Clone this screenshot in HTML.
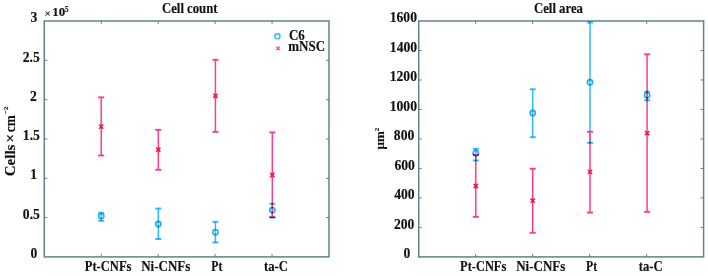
<!DOCTYPE html>
<html><head><meta charset="utf-8"><style>
html,body{margin:0;padding:0;background:#fff;width:708px;height:276px;overflow:hidden}
svg{display:block;filter:blur(0.3px)}
</style></head><body>
<svg width="708" height="276" viewBox="0 0 708 276">
<rect x="44.3" y="21.0" width="284.70" height="235.90" fill="none" stroke="#5c848a" stroke-width="1.5"/>
<line x1="101.24" y1="256.9" x2="101.24" y2="253.89999999999998" stroke="#5c848a" stroke-width="1"/>
<line x1="101.24" y1="21.0" x2="101.24" y2="24.0" stroke="#5c848a" stroke-width="1"/>
<line x1="158.18" y1="256.9" x2="158.18" y2="253.89999999999998" stroke="#5c848a" stroke-width="1"/>
<line x1="158.18" y1="21.0" x2="158.18" y2="24.0" stroke="#5c848a" stroke-width="1"/>
<line x1="215.12" y1="256.9" x2="215.12" y2="253.89999999999998" stroke="#5c848a" stroke-width="1"/>
<line x1="215.12" y1="21.0" x2="215.12" y2="24.0" stroke="#5c848a" stroke-width="1"/>
<line x1="272.06" y1="256.9" x2="272.06" y2="253.89999999999998" stroke="#5c848a" stroke-width="1"/>
<line x1="272.06" y1="21.0" x2="272.06" y2="24.0" stroke="#5c848a" stroke-width="1"/>
<line x1="44.3" y1="217.58" x2="47.3" y2="217.58" stroke="#5c848a" stroke-width="1"/>
<line x1="329.0" y1="217.58" x2="326.0" y2="217.58" stroke="#5c848a" stroke-width="1"/>
<line x1="44.3" y1="178.27" x2="47.3" y2="178.27" stroke="#5c848a" stroke-width="1"/>
<line x1="329.0" y1="178.27" x2="326.0" y2="178.27" stroke="#5c848a" stroke-width="1"/>
<line x1="44.3" y1="138.95" x2="47.3" y2="138.95" stroke="#5c848a" stroke-width="1"/>
<line x1="329.0" y1="138.95" x2="326.0" y2="138.95" stroke="#5c848a" stroke-width="1"/>
<line x1="44.3" y1="99.63" x2="47.3" y2="99.63" stroke="#5c848a" stroke-width="1"/>
<line x1="329.0" y1="99.63" x2="326.0" y2="99.63" stroke="#5c848a" stroke-width="1"/>
<line x1="44.3" y1="60.32" x2="47.3" y2="60.32" stroke="#5c848a" stroke-width="1"/>
<line x1="329.0" y1="60.32" x2="326.0" y2="60.32" stroke="#5c848a" stroke-width="1"/>
<line x1="101.2" y1="212.7" x2="101.2" y2="220.8" stroke="#2ebef2" stroke-width="1.5"/>
<line x1="158.3" y1="208.5" x2="158.3" y2="239" stroke="#2ebef2" stroke-width="1.5"/>
<line x1="215.4" y1="221.8" x2="215.4" y2="242.5" stroke="#2ebef2" stroke-width="1.5"/>
<line x1="272.3" y1="203.8" x2="272.3" y2="217.5" stroke="#2ebef2" stroke-width="1.5"/>
<line x1="101.2" y1="97.4" x2="101.2" y2="155.5" stroke="#ff3c8c" stroke-width="1.5"/>
<line x1="98.20" y1="97.4" x2="104.20" y2="97.4" stroke="#ff3c8c" stroke-width="1.9"/>
<line x1="98.20" y1="155.5" x2="104.20" y2="155.5" stroke="#ff3c8c" stroke-width="1.9"/>
<path d="M99.10 124.50L103.30 128.70M99.10 128.70L103.30 124.50" stroke="#f5103c" stroke-width="1.5"/>
<line x1="158.3" y1="129.9" x2="158.3" y2="169.8" stroke="#ff3c8c" stroke-width="1.5"/>
<line x1="155.30" y1="129.9" x2="161.30" y2="129.9" stroke="#ff3c8c" stroke-width="1.9"/>
<line x1="155.30" y1="169.8" x2="161.30" y2="169.8" stroke="#ff3c8c" stroke-width="1.9"/>
<path d="M156.20 147.60L160.40 151.80M156.20 151.80L160.40 147.60" stroke="#f5103c" stroke-width="1.5"/>
<line x1="215.4" y1="59.8" x2="215.4" y2="131.8" stroke="#ff3c8c" stroke-width="1.5"/>
<line x1="212.40" y1="59.8" x2="218.40" y2="59.8" stroke="#ff3c8c" stroke-width="1.9"/>
<line x1="212.40" y1="131.8" x2="218.40" y2="131.8" stroke="#ff3c8c" stroke-width="1.9"/>
<path d="M213.30 93.70L217.50 97.90M213.30 97.90L217.50 93.70" stroke="#f5103c" stroke-width="1.5"/>
<line x1="272.3" y1="132.4" x2="272.3" y2="217.2" stroke="#ff3c8c" stroke-width="1.5"/>
<line x1="269.30" y1="132.4" x2="275.30" y2="132.4" stroke="#ff3c8c" stroke-width="1.9"/>
<line x1="269.30" y1="217.2" x2="275.30" y2="217.2" stroke="#ff3c8c" stroke-width="1.9"/>
<path d="M270.20 172.90L274.40 177.10M270.20 177.10L274.40 172.90" stroke="#f5103c" stroke-width="1.5"/>
<g style="mix-blend-mode:multiply"><line x1="98.20" y1="212.7" x2="104.20" y2="212.7" stroke="#2ebef2" stroke-width="1.9"/>
<line x1="98.20" y1="220.8" x2="104.20" y2="220.8" stroke="#2ebef2" stroke-width="1.9"/>
<circle cx="101.2" cy="216" r="2.65" fill="none" stroke="#22aef0" stroke-width="1.6"/>
<line x1="155.30" y1="208.5" x2="161.30" y2="208.5" stroke="#2ebef2" stroke-width="1.9"/>
<line x1="155.30" y1="239" x2="161.30" y2="239" stroke="#2ebef2" stroke-width="1.9"/>
<circle cx="158.3" cy="224.0" r="2.65" fill="none" stroke="#22aef0" stroke-width="1.6"/>
<line x1="212.40" y1="221.8" x2="218.40" y2="221.8" stroke="#2ebef2" stroke-width="1.9"/>
<line x1="212.40" y1="242.5" x2="218.40" y2="242.5" stroke="#2ebef2" stroke-width="1.9"/>
<circle cx="215.4" cy="232.2" r="2.65" fill="none" stroke="#22aef0" stroke-width="1.6"/>
<line x1="269.30" y1="203.8" x2="275.30" y2="203.8" stroke="#2ebef2" stroke-width="1.9"/>
<line x1="269.30" y1="217.5" x2="275.30" y2="217.5" stroke="#2ebef2" stroke-width="1.9"/>
<circle cx="272.3" cy="210.1" r="2.65" fill="none" stroke="#22aef0" stroke-width="1.6"/></g>
<text font-family="Liberation Serif" font-weight="bold" stroke="#111" stroke-width="0.15" transform="translate(37.20,22.40) scale(1.05,1.15)" font-size="13" text-anchor="end" fill="#111">3</text>
<text font-family="Liberation Serif" font-weight="bold" stroke="#111" stroke-width="0.15" transform="translate(39.80,61.60) scale(1.05,1.15)" font-size="13" text-anchor="end" fill="#111">2.5</text>
<text font-family="Liberation Serif" font-weight="bold" stroke="#111" stroke-width="0.15" transform="translate(36.90,100.70) scale(1.05,1.15)" font-size="13" text-anchor="end" fill="#111">2</text>
<text font-family="Liberation Serif" font-weight="bold" stroke="#111" stroke-width="0.15" transform="translate(39.90,140.00) scale(1.05,1.15)" font-size="13" text-anchor="end" fill="#111">1.5</text>
<text font-family="Liberation Serif" font-weight="bold" stroke="#111" stroke-width="0.15" transform="translate(37.00,179.30) scale(1.05,1.15)" font-size="13" text-anchor="end" fill="#111">1</text>
<text font-family="Liberation Serif" font-weight="bold" stroke="#111" stroke-width="0.15" transform="translate(39.90,218.50) scale(1.05,1.15)" font-size="13" text-anchor="end" fill="#111">0.5</text>
<text font-family="Liberation Serif" font-weight="bold" stroke="#111" stroke-width="0.15" transform="translate(37.20,257.60) scale(1.05,1.15)" font-size="13" text-anchor="end" fill="#111">0</text>
<text font-family="Liberation Serif" font-weight="bold" stroke="#111" stroke-width="0.15" transform="translate(84.80,270.80) scale(0.965,1.15)" font-size="13" text-anchor="start" fill="#111">Pt-CNFs</text>
<text font-family="Liberation Serif" font-weight="bold" stroke="#111" stroke-width="0.15" transform="translate(141.20,270.80) scale(1,1.15)" font-size="13" text-anchor="start" fill="#111">Ni-CNFs</text>
<text font-family="Liberation Serif" font-weight="bold" stroke="#111" stroke-width="0.15" transform="translate(211.30,270.80) scale(0.9,1.15)" font-size="13" text-anchor="start" fill="#111">Pt</text>
<text font-family="Liberation Serif" font-weight="bold" stroke="#111" stroke-width="0.15" transform="translate(263.90,270.80) scale(0.98,1.15)" font-size="13" text-anchor="start" fill="#111">ta-C</text>
<text font-family="Liberation Serif" font-weight="bold" stroke="#111" stroke-width="0.15" transform="translate(162.00,13.10) scale(0.98,1.15)" font-size="13" text-anchor="start" fill="#111">Cell count</text>
<text font-family="Liberation Serif" font-weight="bold" stroke="#111" stroke-width="0.15" transform="translate(44.60,17.30) scale(1,1.0)" font-size="11" text-anchor="start" fill="#111">&#215;</text>
<text font-family="Liberation Serif" font-weight="bold" stroke="#111" stroke-width="0.15" transform="translate(52.30,16.40) scale(1,0.98)" font-size="13" text-anchor="start" fill="#111">10</text>
<text font-family="Liberation Serif" font-weight="bold" stroke="#111" stroke-width="0.15" transform="translate(64.90,11.70) scale(1,1.1)" font-size="7" text-anchor="start" fill="#111">5</text>
<circle cx="277.4" cy="36.3" r="2.6" fill="none" stroke="#2ebef2" stroke-width="1.4"/>
<path d="M276.4 46.6L279.8 50.0M276.4 50.0L279.8 46.6" stroke="#ff3c8c" stroke-width="1.3"/>
<text font-family="Liberation Serif" font-weight="bold" stroke="#111" stroke-width="0.15" transform="translate(288.90,40.20) scale(1,1.1)" font-size="13" text-anchor="start" fill="#111">C6</text>
<text font-family="Liberation Serif" font-weight="bold" stroke="#111" stroke-width="0.15" transform="translate(288.30,51.30) scale(1,1.1)" font-size="13" text-anchor="start" fill="#111">mNSC</text>
<text font-family="Liberation Serif" font-weight="bold" stroke="#111" stroke-width="0.15" transform="translate(14.50,176.20) rotate(-90) scale(1.07,1)" font-size="14" fill="#111">Cells</text>
<text font-family="Liberation Serif" font-weight="bold" stroke="#111" stroke-width="0.15" transform="translate(14.50,142.60) rotate(-90) scale(1.07,1)" font-size="14" fill="#111">&#215;</text>
<text font-family="Liberation Serif" font-weight="bold" stroke="#111" stroke-width="0.15" transform="translate(14.50,132.20) rotate(-90) scale(0.95,1)" font-size="14" fill="#111">cm</text>
<text font-family="Liberation Serif" font-weight="bold" stroke="#111" stroke-width="0.15" transform="translate(8.20,113.80) rotate(-90) scale(1.0,1)" font-size="6.8" fill="#111">&#8722;2</text>
<rect x="418.7" y="21.0" width="284.90" height="235.90" fill="none" stroke="#5c848a" stroke-width="1.5"/>
<line x1="475.68" y1="256.9" x2="475.68" y2="253.89999999999998" stroke="#5c848a" stroke-width="1"/>
<line x1="475.68" y1="21.0" x2="475.68" y2="24.0" stroke="#5c848a" stroke-width="1"/>
<line x1="532.66" y1="256.9" x2="532.66" y2="253.89999999999998" stroke="#5c848a" stroke-width="1"/>
<line x1="532.66" y1="21.0" x2="532.66" y2="24.0" stroke="#5c848a" stroke-width="1"/>
<line x1="589.64" y1="256.9" x2="589.64" y2="253.89999999999998" stroke="#5c848a" stroke-width="1"/>
<line x1="589.64" y1="21.0" x2="589.64" y2="24.0" stroke="#5c848a" stroke-width="1"/>
<line x1="646.62" y1="256.9" x2="646.62" y2="253.89999999999998" stroke="#5c848a" stroke-width="1"/>
<line x1="646.62" y1="21.0" x2="646.62" y2="24.0" stroke="#5c848a" stroke-width="1"/>
<line x1="418.7" y1="227.41" x2="421.7" y2="227.41" stroke="#5c848a" stroke-width="1"/>
<line x1="703.6" y1="227.41" x2="700.6" y2="227.41" stroke="#5c848a" stroke-width="1"/>
<line x1="418.7" y1="197.92" x2="421.7" y2="197.92" stroke="#5c848a" stroke-width="1"/>
<line x1="703.6" y1="197.92" x2="700.6" y2="197.92" stroke="#5c848a" stroke-width="1"/>
<line x1="418.7" y1="168.44" x2="421.7" y2="168.44" stroke="#5c848a" stroke-width="1"/>
<line x1="703.6" y1="168.44" x2="700.6" y2="168.44" stroke="#5c848a" stroke-width="1"/>
<line x1="418.7" y1="138.95" x2="421.7" y2="138.95" stroke="#5c848a" stroke-width="1"/>
<line x1="703.6" y1="138.95" x2="700.6" y2="138.95" stroke="#5c848a" stroke-width="1"/>
<line x1="418.7" y1="109.46" x2="421.7" y2="109.46" stroke="#5c848a" stroke-width="1"/>
<line x1="703.6" y1="109.46" x2="700.6" y2="109.46" stroke="#5c848a" stroke-width="1"/>
<line x1="418.7" y1="79.97" x2="421.7" y2="79.97" stroke="#5c848a" stroke-width="1"/>
<line x1="703.6" y1="79.97" x2="700.6" y2="79.97" stroke="#5c848a" stroke-width="1"/>
<line x1="418.7" y1="50.49" x2="421.7" y2="50.49" stroke="#5c848a" stroke-width="1"/>
<line x1="703.6" y1="50.49" x2="700.6" y2="50.49" stroke="#5c848a" stroke-width="1"/>
<line x1="475.8" y1="148.8" x2="475.8" y2="160.5" stroke="#2ebef2" stroke-width="1.5"/>
<line x1="532.7" y1="89.3" x2="532.7" y2="137.2" stroke="#2ebef2" stroke-width="1.5"/>
<line x1="590.0" y1="22.5" x2="590.0" y2="142.8" stroke="#2ebef2" stroke-width="1.5"/>
<line x1="647.1" y1="91.7" x2="647.1" y2="100.3" stroke="#2ebef2" stroke-width="1.5"/>
<line x1="475.8" y1="154.8" x2="475.8" y2="216.9" stroke="#ff3c8c" stroke-width="1.5"/>
<line x1="472.80" y1="154.8" x2="478.80" y2="154.8" stroke="#ff3c8c" stroke-width="1.9"/>
<line x1="472.80" y1="216.9" x2="478.80" y2="216.9" stroke="#ff3c8c" stroke-width="1.9"/>
<path d="M473.70 183.90L477.90 188.10M473.70 188.10L477.90 183.90" stroke="#f5103c" stroke-width="1.5"/>
<line x1="532.7" y1="168.7" x2="532.7" y2="232.8" stroke="#ff3c8c" stroke-width="1.5"/>
<line x1="529.70" y1="168.7" x2="535.70" y2="168.7" stroke="#ff3c8c" stroke-width="1.9"/>
<line x1="529.70" y1="232.8" x2="535.70" y2="232.8" stroke="#ff3c8c" stroke-width="1.9"/>
<path d="M530.60 198.60L534.80 202.80M530.60 202.80L534.80 198.60" stroke="#f5103c" stroke-width="1.5"/>
<line x1="590.0" y1="131.7" x2="590.0" y2="212.6" stroke="#ff3c8c" stroke-width="1.5"/>
<line x1="587.00" y1="131.7" x2="593.00" y2="131.7" stroke="#ff3c8c" stroke-width="1.9"/>
<line x1="587.00" y1="212.6" x2="593.00" y2="212.6" stroke="#ff3c8c" stroke-width="1.9"/>
<path d="M587.90 169.80L592.10 174.00M587.90 174.00L592.10 169.80" stroke="#f5103c" stroke-width="1.5"/>
<line x1="647.1" y1="54.3" x2="647.1" y2="211.8" stroke="#ff3c8c" stroke-width="1.5"/>
<line x1="644.10" y1="54.3" x2="650.10" y2="54.3" stroke="#ff3c8c" stroke-width="1.9"/>
<line x1="644.10" y1="211.8" x2="650.10" y2="211.8" stroke="#ff3c8c" stroke-width="1.9"/>
<path d="M645.00 131.10L649.20 135.30M645.00 135.30L649.20 131.10" stroke="#f5103c" stroke-width="1.5"/>
<g style="mix-blend-mode:multiply"><line x1="472.80" y1="148.8" x2="478.80" y2="148.8" stroke="#2ebef2" stroke-width="1.9"/>
<line x1="472.80" y1="160.5" x2="478.80" y2="160.5" stroke="#2ebef2" stroke-width="1.9"/>
<circle cx="475.8" cy="153.2" r="2.65" fill="none" stroke="#22aef0" stroke-width="1.6"/>
<line x1="529.70" y1="89.3" x2="535.70" y2="89.3" stroke="#2ebef2" stroke-width="1.9"/>
<line x1="529.70" y1="137.2" x2="535.70" y2="137.2" stroke="#2ebef2" stroke-width="1.9"/>
<circle cx="532.7" cy="113" r="2.65" fill="none" stroke="#22aef0" stroke-width="1.6"/>
<line x1="587.00" y1="22.5" x2="593.00" y2="22.5" stroke="#2ebef2" stroke-width="1.9"/>
<line x1="587.00" y1="142.8" x2="593.00" y2="142.8" stroke="#2ebef2" stroke-width="1.9"/>
<circle cx="590.0" cy="82.3" r="2.65" fill="none" stroke="#22aef0" stroke-width="1.6"/>
<line x1="644.10" y1="91.7" x2="650.10" y2="91.7" stroke="#2ebef2" stroke-width="1.9"/>
<line x1="644.10" y1="100.3" x2="650.10" y2="100.3" stroke="#2ebef2" stroke-width="1.9"/>
<circle cx="647.1" cy="95.2" r="2.65" fill="none" stroke="#22aef0" stroke-width="1.6"/></g>
<text font-family="Liberation Serif" font-weight="bold" stroke="#111" stroke-width="0.15" transform="translate(417.00,22.40) scale(1.05,1.15)" font-size="13" text-anchor="end" fill="#111">1600</text>
<text font-family="Liberation Serif" font-weight="bold" stroke="#111" stroke-width="0.15" transform="translate(417.10,51.80) scale(1.05,1.15)" font-size="13" text-anchor="end" fill="#111">1400</text>
<text font-family="Liberation Serif" font-weight="bold" stroke="#111" stroke-width="0.15" transform="translate(417.00,81.20) scale(1.05,1.15)" font-size="13" text-anchor="end" fill="#111">1200</text>
<text font-family="Liberation Serif" font-weight="bold" stroke="#111" stroke-width="0.15" transform="translate(417.00,110.70) scale(1.05,1.15)" font-size="13" text-anchor="end" fill="#111">1000</text>
<text font-family="Liberation Serif" font-weight="bold" stroke="#111" stroke-width="0.15" transform="translate(414.30,140.20) scale(1.05,1.15)" font-size="13" text-anchor="end" fill="#111">800</text>
<text font-family="Liberation Serif" font-weight="bold" stroke="#111" stroke-width="0.15" transform="translate(414.90,169.60) scale(1.05,1.15)" font-size="13" text-anchor="end" fill="#111">600</text>
<text font-family="Liberation Serif" font-weight="bold" stroke="#111" stroke-width="0.15" transform="translate(414.60,199.10) scale(1.05,1.15)" font-size="13" text-anchor="end" fill="#111">400</text>
<text font-family="Liberation Serif" font-weight="bold" stroke="#111" stroke-width="0.15" transform="translate(414.40,228.50) scale(1.05,1.15)" font-size="13" text-anchor="end" fill="#111">200</text>
<text font-family="Liberation Serif" font-weight="bold" stroke="#111" stroke-width="0.15" transform="translate(410.40,257.60) scale(1.05,1.15)" font-size="13" text-anchor="end" fill="#111">0</text>
<text font-family="Liberation Serif" font-weight="bold" stroke="#111" stroke-width="0.15" transform="translate(460.10,270.80) scale(0.955,1.15)" font-size="13" text-anchor="start" fill="#111">Pt-CNFs</text>
<text font-family="Liberation Serif" font-weight="bold" stroke="#111" stroke-width="0.15" transform="translate(516.20,270.80) scale(1,1.15)" font-size="13" text-anchor="start" fill="#111">Ni-CNFs</text>
<text font-family="Liberation Serif" font-weight="bold" stroke="#111" stroke-width="0.15" transform="translate(586.10,270.80) scale(0.9,1.15)" font-size="13" text-anchor="start" fill="#111">Pt</text>
<text font-family="Liberation Serif" font-weight="bold" stroke="#111" stroke-width="0.15" transform="translate(638.70,270.80) scale(0.98,1.15)" font-size="13" text-anchor="start" fill="#111">ta-C</text>
<text font-family="Liberation Serif" font-weight="bold" stroke="#111" stroke-width="0.15" transform="translate(534.00,13.10) scale(0.98,1.15)" font-size="13" text-anchor="start" fill="#111">Cell area</text>
<text font-family="Liberation Serif" font-weight="bold" stroke="#111" stroke-width="0.15" transform="translate(383.8,149.4) rotate(-90)" font-size="13" fill="#111">&#956;m<tspan font-size="7" dy="-5">2</tspan></text>
</svg>
</body></html>
